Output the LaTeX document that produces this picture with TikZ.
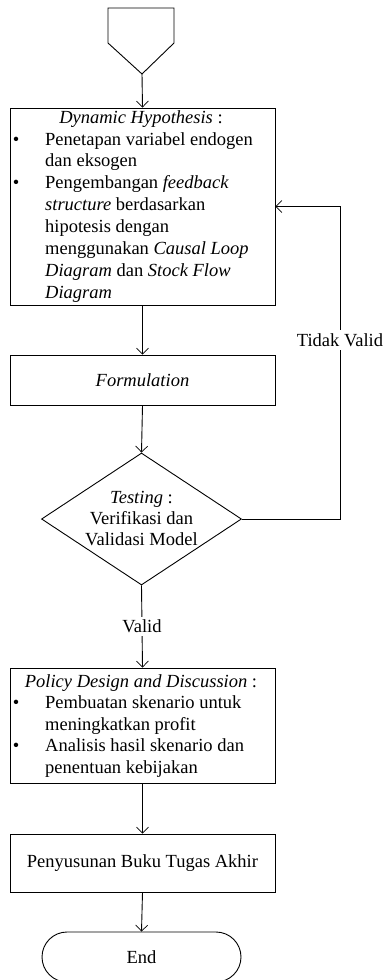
\documentclass[tikz,border=0pt]{standalone}
\usepackage{fontspec}
\setmainfont{Liberation Serif}
\usetikzlibrary{arrows.meta,shapes.geometric}
\tikzset{
  box/.style={draw, line width=0.9pt, minimum width=265pt, inner sep=0pt},
  txt/.style={inner sep=0pt, anchor=base west},
  ctxt/.style={inner sep=0pt, anchor=base},
  arr/.style={line width=0.9pt, -{Straight Barb[length=6pt,width=12pt,line width=0.7pt]}},
  lbl/.style={fill=white, inner sep=3pt},
}
\begin{document}
\begin{tikzpicture}[x=1pt, y=-1pt, font=\fontsize{18.5}{21.9}\selectfont]
\useasboundingbox (0,0) rectangle (386,980);

% off-page connector (start)
\draw[line width=0.9pt] (108,8) -- (174,8) -- (174,43) -- (142,74) -- (108,43) -- cycle;
\coordinate (start) at (142,74);

% Dynamic Hypothesis box
\node[box, minimum height=197pt] (dh) at (142.5,206.5) {};
\node[ctxt] (dht) at (141,123) {\textit{Dynamic Hypothesis} :};
\node[ctxt] (dhb1) at (16,145) {\textbullet};
\node[txt] (dh1) at (45,145) {Penetapan variabel endogen};
\node[txt] (dh2) at (45,166.9) {dan eksogen};
\node[ctxt] (dhb2) at (16,188.8) {\textbullet};
\node[txt] (dh3) at (45,188.8) {Pengembangan \textit{feedback}};
\node[txt] (dh4) at (45,210.7) {\textit{structure} berdasarkan};
\node[txt] (dh5) at (45,232.6) {hipotesis dengan};
\node[txt] (dh6) at (45,254.5) {menggunakan \textit{Causal Loop}};
\node[txt] (dh7) at (45,276.4) {\textit{Diagram} dan \textit{Stock Flow}};
\node[txt] (dh8) at (45,298.3) {\textit{Diagram}};

% Formulation
\node[box, minimum height=50pt] (form) at (142.5,380) {\textit{Formulation}};

% Testing diamond
\node[draw, line width=0.9pt, diamond, minimum width=200pt, minimum height=132pt, inner sep=0pt] (test) at (141.5,519) {};
\node[ctxt] (tt1) at (141.5,503) {\textit{Testing} :};
\node[ctxt] (tt2) at (141.5,524) {Verifikasi dan};
\node[ctxt] (tt3) at (141.5,545) {Validasi Model};

% Policy Design box
\node[box, minimum height=115pt] (pd) at (142.5,725.5) {};
\node[ctxt] (pdt) at (141,687) {\textit{Policy Design and Discussion} :};
\node[ctxt] (pdb1) at (16,708.5) {\textbullet};
\node[txt] (pd1) at (45,708.5) {Pembuatan skenario untuk};
\node[txt] (pd2) at (45,730) {meningkatkan profit};
\node[ctxt] (pdb2) at (16,751.5) {\textbullet};
\node[txt] (pd3) at (45,751.5) {Analisis hasil skenario dan};
\node[txt] (pd4) at (45,773) {penentuan kebijakan};

% Penyusunan
\node[box, minimum height=58pt] (pen) at (142.5,863) {Penyusunan Buku Tugas Akhir};

% End terminator
\node[draw, line width=0.9pt, rounded corners=25pt, minimum width=199pt, minimum height=50pt, inner sep=0pt] (end) at (141.5,957) {End};

% connectors
\draw[arr] (start) -- (dh.north);
\draw[arr] (dh.south) -- (form.north);
\draw[arr] (form.south) -- (test.north);
\draw[arr] (test.south) -- node[lbl] (valid) {Valid} (pd.north);
\draw[arr] (pd.south) -- (pen.north);
\draw[arr] (pen.south) -- (end.north);

\coordinate (fbx) at (340,0);
\draw[arr] (test.east) -- (test.east -| fbx) -- (fbx |- dh.east) -- (dh.east);
\node[lbl] (tv) at (340,340) {Tidak Valid};
\end{tikzpicture}
\end{document}
